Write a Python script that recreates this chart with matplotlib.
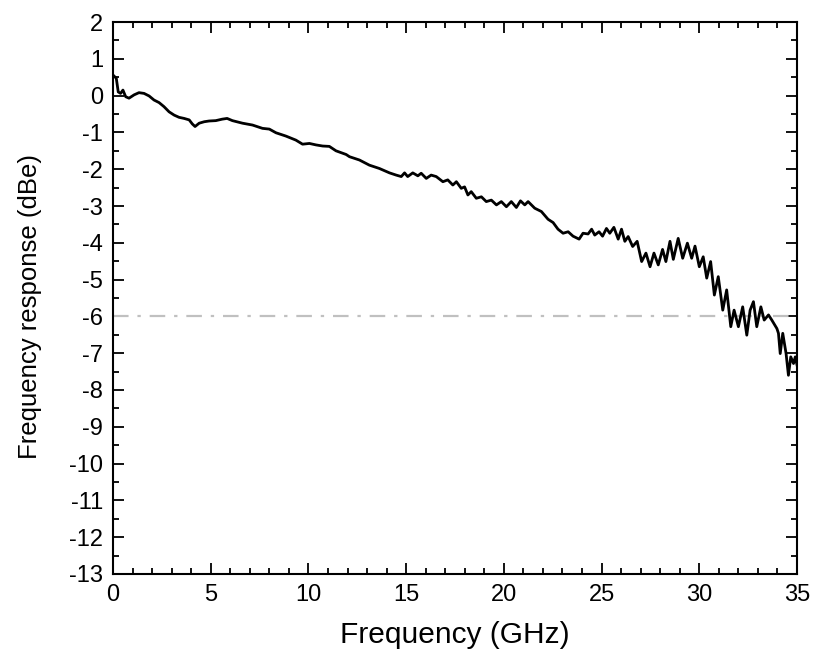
import matplotlib
matplotlib.use("Agg")
import matplotlib.pyplot as plt
from matplotlib.ticker import MultipleLocator

plt.rcParams['font.family'] = ['Liberation Sans', 'DejaVu Sans']
plt.rcParams['axes.unicode_minus'] = False

# frequency (GHz) and response (dBe)
freq = [0.0, 0.17, 0.27, 0.39, 0.51, 0.65, 0.82, 1.08, 1.33, 1.59, 1.85, 2.1, 2.36,
        2.61, 2.87, 3.13, 3.38, 3.64, 3.9, 4.06, 4.2, 4.41, 4.67, 4.92, 5.26, 5.59,
        5.84, 6.11, 6.63, 7.14, 7.65, 8.0, 8.34, 8.85, 9.36, 9.7, 10.05, 10.39,
        10.73, 11.07, 11.41, 11.93, 12.1, 12.61, 13.12, 13.63, 14.15, 14.49, 14.75,
        14.92, 15.08, 15.34, 15.6, 15.77, 16.03, 16.28, 16.54, 16.88, 17.13, 17.39,
        17.57, 17.82, 17.99, 18.16, 18.33, 18.59, 18.85, 19.1, 19.36, 19.62, 19.87,
        20.13, 20.38, 20.64, 20.85, 21.07, 21.24, 21.58, 21.92, 22.26, 22.52, 22.77,
        23.03, 23.29, 23.54, 23.85, 24.05, 24.31, 24.49, 24.65, 24.87, 25.05, 25.25,
        25.42, 25.63, 25.85, 26.02, 26.19, 26.36, 26.59, 26.82, 27.05, 27.27, 27.48,
        27.68, 27.9, 28.12, 28.29, 28.5, 28.67, 28.92, 29.15, 29.39, 29.61, 29.78,
        30.0, 30.2, 30.38, 30.58, 30.77, 30.97, 31.2, 31.4, 31.61, 31.78, 32.0, 32.22,
        32.43, 32.6, 32.77, 32.94, 33.15, 33.32, 33.54, 33.71, 33.97, 34.05, 34.14,
        34.27, 34.44, 34.56, 34.68, 34.82, 34.91, 35.0]
resp = [0.56, 0.47, 0.1, 0.06, 0.15, -0.03, -0.07, 0.02, 0.08, 0.06, -0.01, -0.12, -0.19,
        -0.3, -0.44, -0.53, -0.59, -0.62, -0.66, -0.77, -0.84, -0.75, -0.71, -0.69, -0.68, -0.64,
        -0.62, -0.68, -0.75, -0.8, -0.89, -0.91, -1.01, -1.1, -1.21, -1.32, -1.3, -1.34,
        -1.37, -1.38, -1.5, -1.6, -1.66, -1.75, -1.89, -1.98, -2.1, -2.16, -2.2,
        -2.1, -2.2, -2.1, -2.18, -2.11, -2.25, -2.16, -2.2, -2.34, -2.29, -2.43,
        -2.34, -2.52, -2.48, -2.7, -2.61, -2.79, -2.75, -2.88, -2.84, -2.97, -2.88,
        -3.02, -2.88, -3.04, -2.86, -2.97, -2.88, -3.06, -3.15, -3.36, -3.45, -3.63,
        -3.74, -3.7, -3.82, -3.9, -3.74, -3.76, -3.63, -3.79, -3.7, -3.82, -3.61,
        -3.74, -3.58, -3.9, -3.63, -3.96, -3.83, -4.1, -3.96, -4.51, -4.28, -4.65,
        -4.28, -4.6, -4.18, -4.51, -3.96, -4.45, -3.88, -4.42, -4.01, -4.42, -4.09,
        -4.65, -4.38, -4.96, -4.51, -5.42, -4.92, -5.83, -5.28, -6.28, -5.83, -6.28, -5.74,
        -6.51, -5.83, -5.6, -6.28, -5.74, -6.1, -5.96, -6.1, -6.33, -6.46, -7.01,
        -6.46, -7.01, -7.6, -7.1, -7.28, -7.1, -7.32]

ref_level = -6

fig = plt.figure(figsize=(8.21, 6.59), dpi=100)
ax = fig.add_axes([0.1376, 0.129, 0.8332, 0.8376])

ax.axhline(ref_level, color='#c0c0c0', lw=1.6, dashes=(7, 4, 1.5, 4))
ax.plot(freq, resp, color='black', lw=2.0)

ax.set_xlim(0, 35)
ax.set_ylim(-13, 2)
ax.xaxis.set_major_locator(MultipleLocator(5))
ax.xaxis.set_minor_locator(MultipleLocator(1))
ax.yaxis.set_major_locator(MultipleLocator(1))
ax.yaxis.set_minor_locator(MultipleLocator(0.5))

ax.tick_params(which='both', direction='in', top=True, right=True, width=1.3)
ax.tick_params(which='major', length=8, labelsize=17, pad=7)
ax.tick_params(which='minor', length=4)
for s in ax.spines.values():
    s.set_linewidth(1.5)

ax.set_xlabel('Frequency (GHz)', fontsize=21.5, labelpad=11)
ax.set_ylabel('Frequency response (dBe)', fontsize=18.5)
ax.yaxis.set_label_coords(-0.104, 0.485)

fig.savefig('out.png', dpi=100)
